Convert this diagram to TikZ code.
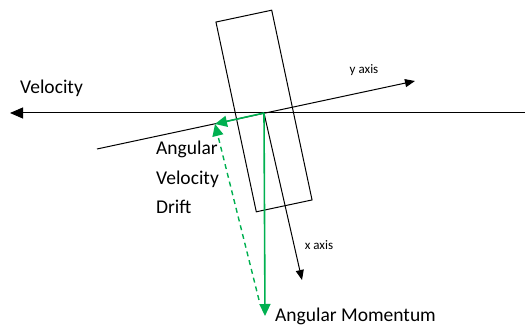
\documentclass[tikz,border=0pt]{standalone}
\usepackage{fontspec}
\setmainfont{Carlito}
\usepackage{xcolor}
\usetikzlibrary{arrows.meta,positioning,calc}
\definecolor{driftgreen}{HTML}{00B050}

\begin{document}
\begin{tikzpicture}[
    x=1pt, y=-1pt,
    axis/.style={draw=black, line width=1pt},
    greenarrow/.style={draw=driftgreen, line width=1.6pt, -{Triangle[length=12pt,width=11pt]}},
    label/.style={inner sep=0pt, font=\fontsize{19.5}{24}\selectfont},
    smalllabel/.style={inner sep=0pt, font=\fontsize{13}{16}\selectfont},
    >=Stealth
]
\useasboundingbox (0,0) rectangle (525,328);

% axes and the body
\coordinate (pivot) at (264,113);
\coordinate (velstart) at (525,113);
\coordinate (veltip) at (10,113);
\coordinate (ystart) at (97,149);
\coordinate (ytip) at (415,81);
\coordinate (xtip) at (302,280);
\node[draw, line width=1pt, minimum width=57pt, minimum height=194pt, rotate=12] (body) at (264,111) {};

% green vectors
\coordinate (drifttip) at (215,124);
\coordinate (momtip) at (265,316);
\coordinate (dashstart) at (259,300);

\draw[axis, -{Triangle[length=13pt,width=11pt]}] (velstart) -- (veltip);
\draw[axis, -{Triangle[length=10pt,width=8pt]}] (ystart) -- (ytip);
\draw[axis, -{Triangle[length=10pt,width=8pt]}] (pivot) -- (xtip);

\draw[greenarrow] (pivot) -- (momtip);
\draw[greenarrow] (pivot) -- (drifttip);
\draw[greenarrow, line width=1.4pt, dash pattern=on 5pt off 4pt] (dashstart) -- (drifttip);

% labels
\node[label, anchor=west] (vellabel) at (20,88) {Velocity};
\node[smalllabel] (ylabel) at (364,70) {y axis};
\node[smalllabel] (xlabel) at (319,245) {x axis};
\node[label, anchor=base west] (momlabel) at (275,322) {Angular Momentum};
\node[label, anchor=north west, align=left, font=\fontsize{19.5}{29.5}\selectfont] (driftlabel) at (156,141) {Angular\\Velocity\\Drift};
\end{tikzpicture}
\end{document}
